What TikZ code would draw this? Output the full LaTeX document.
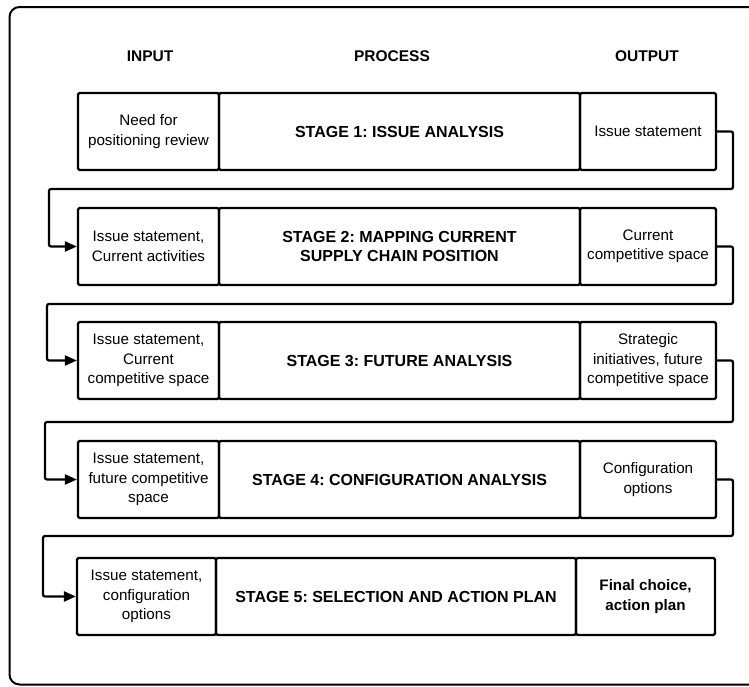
\documentclass[tikz,border=0pt]{standalone}
\usepackage{fontspec}
\setmainfont{Liberation Sans}
\usetikzlibrary{arrows.meta}
\frenchspacing
\begin{document}
\begin{tikzpicture}[x=1pt,y=-1pt,
  cell/.style={draw, line width=2.2pt, rounded corners=1.5pt, minimum height=77pt,
    inner sep=2pt, align=center, font=\fontsize{15.2}{19.5}\selectfont},
  stagebox/.style={cell, font=\fontsize{16}{19.5}\selectfont\bfseries},
  head/.style={font=\fontsize{15.5}{18}\selectfont\bfseries},
  conn/.style={line width=2.2pt, rounded corners=2pt, -{Triangle[length=12pt,width=10pt]}},
]
\useasboundingbox (0,0) rectangle (749,686);
\clip (0,0) rectangle (749,686);

% outer frame
\draw[line width=2pt, rounded corners=10pt] (9.5,7) rectangle (790,684.5);

% column headings
\node[head] (hin)  at (150,56) {INPUT};
\node[head] (hpro) at (392,56) {PROCESS};
\node[head] (hout) at (647,56) {OUTPUT};

% stage 1
\node[cell, minimum width=141pt] (in1) at (148.5,131.5) {Need for\\positioning review};
\node[stagebox, minimum width=361pt] (st1) at (399.5,131.5) {STAGE 1: ISSUE ANALYSIS};
\node[cell, minimum width=136pt] (out1) at (648,131.5) {Issue statement};

% stage 2
\node[cell, minimum width=141pt] (in2) at (148.5,246.5) {Issue statement,\\Current activities};
\node[stagebox, minimum width=361pt] (st2) at (399.5,246.5) {STAGE 2: MAPPING CURRENT\\SUPPLY CHAIN POSITION};
\node[cell, minimum width=136pt] (out2) at (648,246.5) {Current\\competitive space};

% stage 3
\node[cell, minimum width=141pt] (in3) at (148.5,360.5) {Issue statement,\\Current\\competitive space};
\node[stagebox, minimum width=361pt] (st3) at (399.5,360.5) {STAGE 3: FUTURE ANALYSIS};
\node[cell, minimum width=136pt] (out3) at (648,360.5) {Strategic\\initiatives, future\\competitive space};

% stage 4
\node[cell, minimum width=141pt] (in4) at (148.5,479.5) {Issue statement,\\future competitive\\space};
\node[stagebox, minimum width=361pt] (st4) at (399.5,479.5) {STAGE 4: CONFIGURATION ANALYSIS};
\node[cell, minimum width=136pt] (out4) at (648,479.5) {Configuration\\options};

% stage 5
\node[cell, minimum width=139pt] (in5) at (146.5,596.5) {Issue statement,\\configuration\\options};
\node[stagebox, minimum width=360pt] (st5) at (396,596.5) {STAGE 5: SELECTION AND ACTION PLAN};
\node[cell, minimum width=139pt, font=\fontsize{15.2}{19.5}\selectfont\bfseries] (out5) at (645.5,596.5) {Final choice,\\action plan};

% bends of the feedback lines
\coordinate (r1) at (733,189);   \coordinate (l1) at (49,189);
\coordinate (r2) at (733,304);   \coordinate (l2) at (47,304);
\coordinate (r3) at (733,422);   \coordinate (l3) at (45,422);
\coordinate (r4) at (733,536);   \coordinate (l4) at (43,536);

% outputs feed the next stage's inputs
\draw[conn] (out1.east) -| (r1) -- (l1) |- (in2.west);
\draw[conn] (out2.east) -| (r2) -- (l2) |- (in3.west);
\draw[conn] (out3.east) -| (r3) -- (l3) |- (in4.west);
\draw[conn] (out4.east) -| (r4) -- (l4) |- (in5.west);
\end{tikzpicture}
\end{document}
